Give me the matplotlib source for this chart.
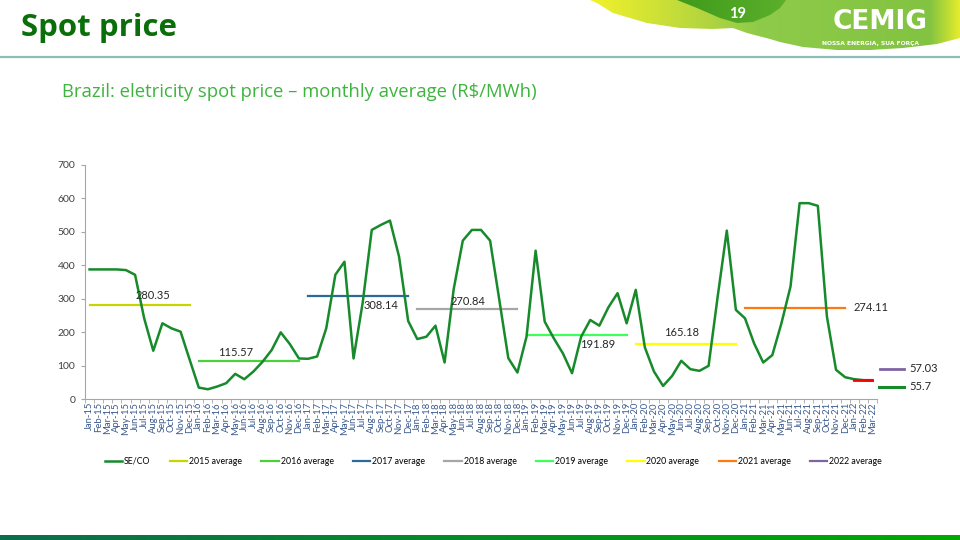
import numpy as np
import pandas as pd
import matplotlib
matplotlib.use('Agg')
import matplotlib.pyplot as plt
from matplotlib.patches import Polygon
from matplotlib.colors import LinearSegmentedColormap

plt.rcParams['font.family'] = ['Lato', 'DejaVu Sans']

# dados - PLD mensal SE/CO (R$/MWh)
months = pd.date_range('2015-01-01', periods=87, freq='MS').strftime('%b-%y')
se_co_2015 = [388, 388, 388, 388, 386, 372, 242, 145, 227, 212, 202, 118]
se_co_2016 = [35, 30, 38, 48, 76, 60, 83, 112, 147, 200, 165, 122]
se_co_2017 = [121, 128, 212, 372, 411, 122, 288, 506, 521, 534, 426, 234]
se_co_2018 = [180, 187, 220, 110, 329, 474, 506, 506, 474, 299, 123, 80]
se_co_2019 = [187, 444, 232, 182, 137, 78, 187, 237, 220, 275, 317, 227]
se_co_2020 = [327, 155, 83, 40, 70, 115, 90, 85, 100, 307, 504, 267]
se_co_2021 = [242, 167, 110, 132, 227, 337, 586, 586, 578, 247, 88, 66]
se_co_2022 = [60, 57, 55.7]
se_co = (se_co_2015 + se_co_2016 + se_co_2017 + se_co_2018 + se_co_2019
         + se_co_2020 + se_co_2021 + se_co_2022)

avg_years = [2015, 2016, 2017, 2018, 2019, 2020, 2021, 2022]
avg_values = [280.35, 115.57, 308.14, 270.84, 191.89, 165.18, 274.11, 57.03]
avg_colors = ['#C8D400', '#4CD13A', '#2B6A9A', '#A6A6A6', '#3DFF5A', '#FFFF00', '#FF7A0E', '#7F64A2']

# posicao dos rotulos (x em meses, deslocamento vertical em pt)
lbl_pos = [(7, 7, 'center'), (16, 6, 'center'), (32, -7, 'center'), (41.6, 5, 'center'),
           (55.8, -7, 'center'), (65, 8, 'center'), (83.9, 0, 'left')]

fig = plt.figure(figsize=(9.6, 5.4), dpi=100)

# fundo / decoracao em coordenadas de pixel
bg = fig.add_axes([0, 0, 1, 1], zorder=0)
bg.axis('off')


def grad_fill(pts, stops, x0, x1, y0, y1):
    poly = Polygon(pts, closed=True, facecolor='none', edgecolor='none')
    bg.add_patch(poly)
    cmap = LinearSegmentedColormap.from_list('g', stops)
    g = np.linspace(0, 1, 256).reshape(1, -1)
    bg.imshow(g, cmap=cmap, extent=(x0, x1, y1, y0), aspect='auto', clip_path=poly)


swoosh = [(590, 0), (960, 0), (960, 38), (937, 44), (903, 48), (870, 50), (837, 50),
          (803, 47), (780, 42), (770, 39), (747, 33), (733, 28), (713, 29), (680, 28),
          (647, 23), (613, 13), (597, 3)]
grad_fill(swoosh, [(0, '#F2F22A'), (0.3, '#B5D63E'), (0.45, '#8FCB4A'),
                   (0.92, '#82C341'), (1, '#E4EC2C')], 590, 960, 0, 50)
lobe = [(677, 0), (697, 8), (720, 18), (737, 23), (753, 22), (770, 15), (780, 8), (786, 0)]
grad_fill(lobe, [(0, '#3F9A1C'), (1, '#5CB02A')], 677, 786, 0, 24)
grad_fill([(0, 535), (960, 535), (960, 540), (0, 540)],
          [(0, '#0B6E4E'), (1, '#00AA00')], 0, 960, 535, 540)

bg.plot([0, 960], [57, 57], color='#8DBDB8', lw=1.6, solid_capstyle='butt')
bg.text(738, 14, '19', color='white', fontsize=10.5, fontweight='bold', ha='center', va='center')
bg.text(880, 22, 'CEMIG', color='white', fontsize=19, fontweight='heavy',
        family='DejaVu Sans', ha='center', va='center')
bg.text(870, 43, 'NOSSA ENERGIA, SUA FORÇA', color='white', fontsize=4.3, fontweight='bold',
        family='DejaVu Sans', ha='center', va='center')

bg.text(21, 28, 'Spot price', color='#0A6F0A', fontsize=22.5, fontweight='bold',
        family='Open Sans', ha='left', va='center')
bg.text(62, 92, 'Brazil: eletricity spot price \u2013 monthly average (R$/MWh)', color='#3DB43D',
        fontsize=13.3, family='Open Sans', ha='left', va='center')

# legenda manual a direita
bg.plot([880, 904], [369, 369], color=avg_colors[-1], lw=2)
bg.text(909, 369, f'{avg_values[-1]:.2f}', fontsize=8, color='#262626', va='center')
bg.plot([879, 904], [387, 387], color='#178A2B', lw=2.2)
bg.text(909, 387, f'{se_co[-1]:g}', fontsize=8, color='#262626', va='center')

bg.set_xlim(0, 960)
bg.set_ylim(540, 0)

# grafico
ax = fig.add_axes([85 / 960, 1 - 399.3 / 540, 792 / 960, 234.3 / 540], zorder=1)
ax.set_facecolor('none')
x = np.arange(len(se_co))
ax.plot(x, se_co, color='#178A2B', lw=1.8, label='SE/CO', zorder=3)

for k, (yr, v, c) in enumerate(zip(avg_years, avg_values, avg_colors)):
    i0 = (yr - 2015) * 12
    i1 = min(i0 + 11, len(se_co) - 1)
    ax.plot([i0, i1], [v, v], color=c, lw=1.6, label=f'{yr} average', zorder=2)
    if k < len(lbl_pos):
        px, dy, ha = lbl_pos[k]
        ax.annotate(f'{v:.2f}', (px, v), xytext=(0, dy), textcoords='offset points',
                    ha=ha, va='center', fontsize=8, color='#262626')

# 2022 em vermelho
ax.plot([84, 86], [avg_values[-1], avg_values[-1]], color='#FF0000', lw=2, zorder=4)

ax.set_xlim(-0.5, len(se_co) - 0.5)
ax.set_ylim(0, 700)
ax.set_yticks(range(0, 701, 100))
ax.set_xticks(x)
ax.set_xticklabels(months, rotation=90, fontsize=6.8, color='#3A5A8C')
ax.set_xticks(np.arange(-0.5, len(se_co), 1), minor=True)
ax.tick_params(axis='x', which='major', length=0, pad=2)
ax.tick_params(axis='x', which='minor', length=3, color='#A6A6A6')
ax.tick_params(axis='y', length=3, color='#A6A6A6', labelsize=7.5, labelcolor='#404040', pad=4)
for s in ['top', 'right']:
    ax.spines[s].set_visible(False)
for s in ['left', 'bottom']:
    ax.spines[s].set_color('#A6A6A6')
    ax.spines[s].set_linewidth(0.8)

h, l = ax.get_legend_handles_labels()
fig.legend(h, l, loc='center', bbox_to_anchor=(0.514, 0.146), ncol=9, frameon=False,
           fontsize=6.3, handlelength=2.0, handletextpad=0.2, columnspacing=2.2)

fig.savefig('out.png', dpi=100)
